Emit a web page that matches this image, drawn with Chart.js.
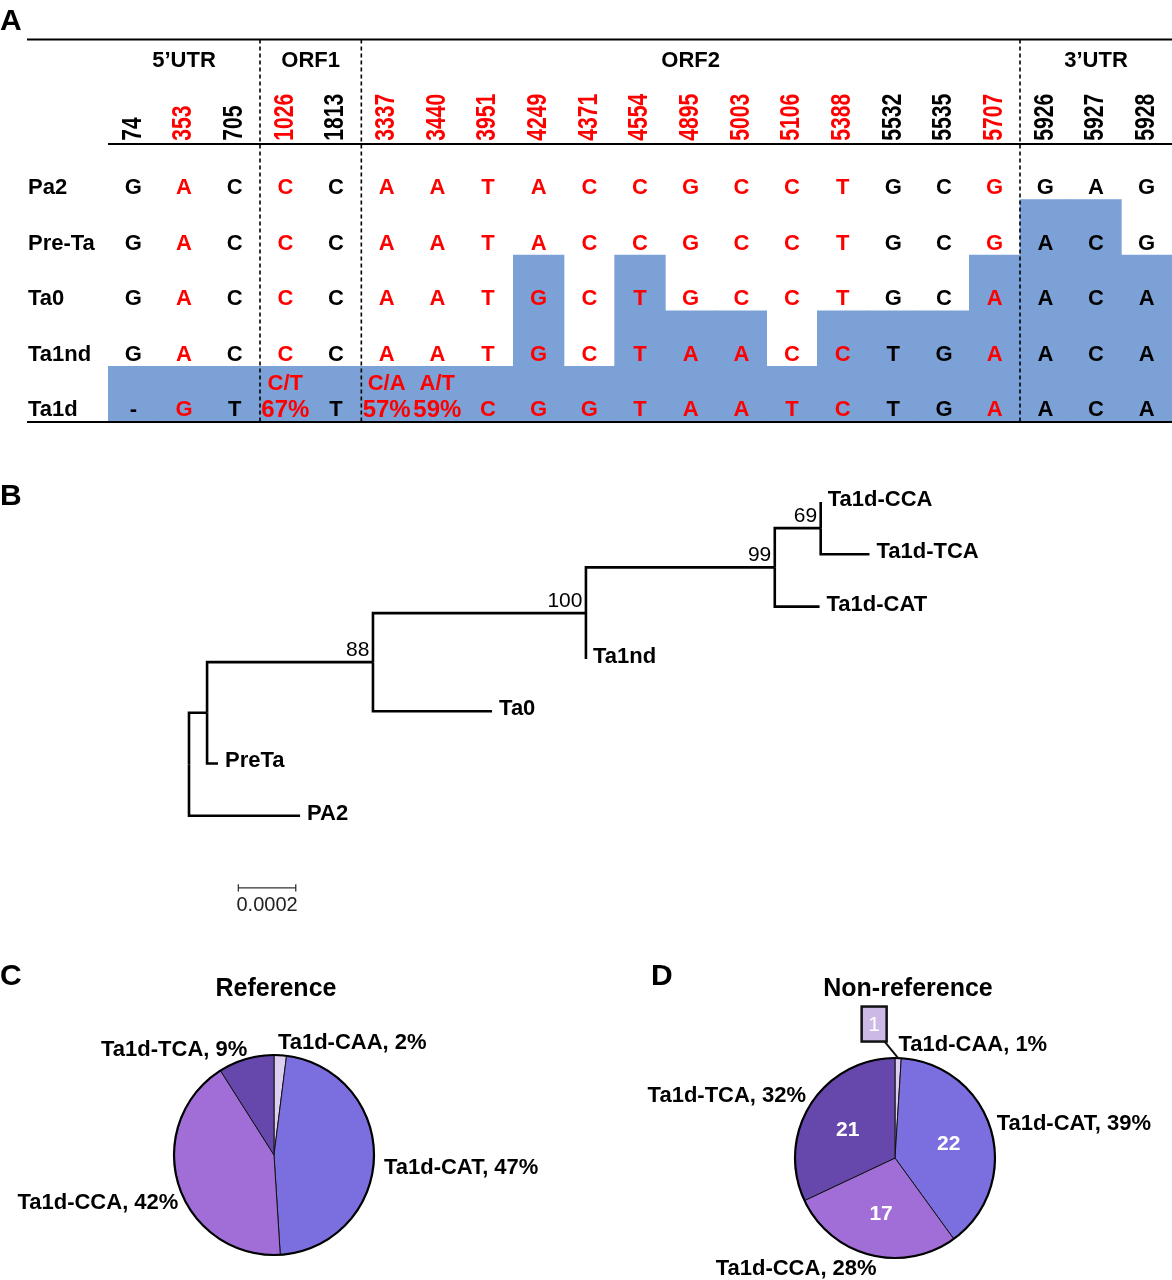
<!DOCTYPE html>
<html>
<head>
<meta charset="utf-8">
<title>Ta1 variants</title>
<script src="https://cdn.jsdelivr.net/npm/chart.js@4.4.1/dist/chart.umd.min.js"></script>
<style>
  body { margin: 0; background: #fff; }
  #page { position: relative; width: 1172px; height: 1280px; overflow: hidden; background: #fff; }
  canvas { position: absolute; }
</style>
</head>
<body>
<div id="page">
  <canvas id="alignChart" width="1172" height="432" style="left:0;top:0"></canvas>
  <canvas id="treeChart" width="1172" height="490" style="left:0;top:440px"></canvas>
  <canvas id="refPie" width="560" height="330" style="left:0;top:950px"></canvas>
  <canvas id="nonRefPie" width="572" height="330" style="left:600px;top:950px"></canvas>
</div>
<script>
// ---------- data: panel A (variant positions) ----------
const positions = ['74', '353', '705', '1026', '1813', '3337', '3440', '3951', '4249', '4371', '4554',
    '4895', '5003', '5106', '5388', '5532', '5535', '5707', '5926', '5927', '5928'];
const redPositions = ['353', '1026', '3337', '3440', '3951', '4249', '4371', '4554', '4895', '5003', '5106', '5388', '5707'];
const regions = ['5’UTR', 'ORF1', 'ORF2', '3’UTR'];
const regionStart = [0, 3, 5, 18]; // first column of each region
const rowNames = ['Pa2', 'Pre-Ta', 'Ta0', 'Ta1nd', 'Ta1d'];
const pa2Bases   = ['G','A','C','C','C','A','A','T','A','C','C','G','C','C','T','G','C','G','G','A','G'];
const preTaBases = ['G','A','C','C','C','A','A','T','A','C','C','G','C','C','T','G','C','G','A','C','G'];
const ta0Bases   = ['G','A','C','C','C','A','A','T','G','C','T','G','C','C','T','G','C','A','A','C','A'];
const ta1ndBases = ['G','A','C','C','C','A','A','T','G','C','T','A','A','C','C','T','G','A','A','C','A'];
const ta1dBases  = ['-','G','T','C/T 67%','T','C/A 57%','A/T 59%','C','G','G','T','A','A','T','C','T','G','A','A','C','A'];
// first row (0 = Pa2 ... 4 = Ta1d) from which a column is shaded
const shadeFrom = [4, 4, 4, 4, 4, 4, 4, 4, 2, 4, 2, 3, 3, 4, 3, 3, 3, 2, 1, 1, 2];

// ---------- data: panel B (tree) ----------
const treeNodes   = ['root', 'n1', 'n88', 'n100', 'n99', 'n69', 'PA2', 'PreTa', 'Ta0', 'Ta1nd', 'Ta1d-CAT', 'Ta1d-CCA', 'Ta1d-TCA'];
const treeParents = [null, 'root', 'n1', 'n88', 'n100', 'n99', 'root', 'n1', 'n88', 'n100', 'n99', 'n69', 'n69'];
const branchLen   = [0, 0.63, 5.78, 7.42, 6.58, 1.60, 3.87, 0.38, 4.15, 0, 1.56, 0, 1.70]; // x 1e-4 subst/site
const bootstrap   = [null, null, 88, 100, 99, 69, null, null, null, null, null, null, null];
const leafOrder   = ['Ta1d-CCA', 'Ta1d-TCA', 'Ta1d-CAT', 'Ta1nd', 'Ta0', 'PreTa', 'PA2'];
const scaleBarLen = 2; // = 0.0002
const scaleBarText = '0.0002';

// ---------- data: panels C, D (pies) ----------
const pieLabels = ['Ta1d-CAA', 'Ta1d-CAT', 'Ta1d-CCA', 'Ta1d-TCA'];
const refPercent = [2, 47, 42, 9];
const nonRefPercent = [1, 39, 28, 32];
const nonRefCounts = [1, 22, 17, 21];
const pieColors = ['#dccff0', '#7b6fdf', '#a06ed6', '#6648ad'];

const FONT = '"Liberation Sans", Arial, Helvetica, sans-serif';
Chart.defaults.font.family = FONT;

function line(ctx, x1, y1, x2, y2) {
    ctx.beginPath();
    ctx.moveTo(x1, y1);
    ctx.lineTo(x2, y2);
    ctx.stroke();
}

function colColor(i) {
    return redPositions.includes(positions[i]) ? '#ff0000' : '#000';
}

// ---------- panel A ----------
const allRows = [pa2Bases, preTaBases, ta0Bases, ta1ndBases, ta1dBases];

const alignmentText = {
    id: 'alignmentText',
    afterDatasetsDraw(chart) {
        const ctx = chart.ctx;
        const x = chart.scales.x, y = chart.scales.y;
        const W = chart.width;
        const colW = x.getPixelForValue(1) - x.getPixelForValue(0);
        const left = x.getPixelForValue(0) - colW / 2;
        const yTop = y.getPixelForValue(-1.88), yHead = y.getPixelForValue(0), yBot = y.getPixelForValue(5);
        ctx.save();
        ctx.fillStyle = '#000';
        ctx.font = 'bold 30px ' + FONT;
        ctx.textAlign = 'left';
        ctx.textBaseline = 'alphabetic';
        ctx.fillText('A', 0, 30);

        // rules
        ctx.strokeStyle = '#000';
        ctx.lineWidth = 2;
        line(ctx, 27, yTop, W, yTop);
        line(ctx, left, yHead, W, yHead);
        line(ctx, 27, yBot, W, yBot);
        ctx.setLineDash([4, 3]);
        ctx.lineWidth = 1.6;
        regionStart.slice(1).forEach(function(c) {
            const xx = x.getPixelForValue(c) - colW / 2;
            line(ctx, xx, yTop, xx, yBot);
        });
        ctx.setLineDash([]);

        // region names
        ctx.font = 'bold 22px ' + FONT;
        ctx.textAlign = 'center';
        ctx.textBaseline = 'middle';
        regions.forEach(function(r, i) {
            const a = regionStart[i];
            const b = (i + 1 < regionStart.length ? regionStart[i + 1] : positions.length) - 1;
            ctx.fillText(r, (x.getPixelForValue(a) + x.getPixelForValue(b)) / 2, y.getPixelForValue(-1.5));
        });

        // vertical position numbers
        positions.forEach(function(p, i) {
            ctx.save();
            ctx.translate(x.getPixelForValue(i), y.getPixelForValue(-0.06));
            ctx.rotate(-Math.PI / 2);
            ctx.scale(0.78, 1);
            ctx.fillStyle = colColor(i);
            ctx.font = 'bold 27px ' + FONT;
            ctx.textAlign = 'left';
            ctx.textBaseline = 'middle';
            ctx.fillText(p, 0, 0);
            ctx.restore();
        });

        // row names and bases
        ctx.textBaseline = 'alphabetic';
        rowNames.forEach(function(name, r) {
            ctx.fillStyle = '#000';
            ctx.font = 'bold 22px ' + FONT;
            ctx.textAlign = 'left';
            ctx.fillText(name, 28, y.getPixelForValue(r + 0.9));
            allRows[r].forEach(function(b, c) {
                const xx = x.getPixelForValue(c);
                ctx.textAlign = 'center';
                ctx.fillStyle = b === '-' ? '#000' : colColor(c);
                if (b.indexOf(' ') > 0) {
                    const parts = b.split(' ');
                    ctx.font = 'bold 22px ' + FONT;
                    ctx.fillText(parts[0], xx, y.getPixelForValue(r + 0.42));
                    ctx.font = 'bold 24px ' + FONT;
                    ctx.fillText(parts[1], xx, y.getPixelForValue(r + 0.91));
                } else {
                    ctx.font = 'bold 22px ' + FONT;
                    ctx.fillText(b, xx, y.getPixelForValue(r + 0.9));
                }
            });
        });
        ctx.restore();
    }
};

new Chart(document.getElementById('alignChart'), {
    type: 'bar',
    data: {
        labels: positions,
        datasets: [{
            data: shadeFrom.map(r => [r, rowNames.length]),
            backgroundColor: '#7ca1d6',
            borderWidth: 0,
            barPercentage: 1,
            categoryPercentage: 1
        }]
    },
    options: {
        responsive: false,
        animation: false,
        layout: { padding: { left: 108, right: 0, top: 144, bottom: 10 } },
        plugins: { legend: { display: false }, tooltip: { enabled: false } },
        scales: {
            x: { display: false },
            y: { display: false, reverse: true, min: 0, max: rowNames.length }
        }
    },
    plugins: [alignmentText]
});

// ---------- panel B ----------
const nodeX = {}, nodeY = {};
treeNodes.forEach(function(n, i) {
    const p = treeParents[i];
    nodeX[n] = (p ? nodeX[p] : 0) + branchLen[i];
});
function yOf(n) {
    if (nodeY[n] !== undefined) return nodeY[n];
    const li = leafOrder.indexOf(n);
    if (li >= 0) return (nodeY[n] = li);
    const kids = treeNodes.filter((m, i) => treeParents[i] === n).map(yOf);
    return (nodeY[n] = (Math.min.apply(null, kids) + Math.max.apply(null, kids)) / 2);
}
treeNodes.forEach(yOf);

const treeSets = [];
treeNodes.forEach(function(n, i) {
    const p = treeParents[i];
    if (!p) return;
    treeSets.push({
        data: [{ x: nodeX[p], y: nodeY[p] }, { x: nodeX[p], y: nodeY[n] }, { x: nodeX[n], y: nodeY[n] }],
        showLine: true, borderColor: '#000', borderWidth: 2.6, pointRadius: 0, fill: false
    });
});
const barY = 7.38, barX = 1.72, tick = 0.07;
treeSets.push({
    data: [{ x: barX, y: barY - tick }, { x: barX, y: barY + tick }, { x: barX, y: barY },
        { x: barX + scaleBarLen, y: barY }, { x: barX + scaleBarLen, y: barY - tick }, { x: barX + scaleBarLen, y: barY + tick }],
    showLine: true, borderColor: '#333', borderWidth: 1.3, pointRadius: 0, fill: false
});

const treeText = {
    id: 'treeText',
    afterDatasetsDraw(chart) {
        const ctx = chart.ctx;
        const x = chart.scales.x, y = chart.scales.y;
        ctx.save();
        ctx.fillStyle = '#000';
        ctx.textBaseline = 'alphabetic';
        ctx.textAlign = 'left';
        ctx.font = 'bold 30px ' + FONT;
        ctx.fillText('B', 0, 65);
        ctx.font = 'bold 22px ' + FONT;
        leafOrder.forEach(function(n) {
            ctx.fillText(n, x.getPixelForValue(nodeX[n]) + 7, y.getPixelForValue(nodeY[n]) + 4);
        });
        ctx.font = '21px ' + FONT;
        ctx.textAlign = 'right';
        treeNodes.forEach(function(n, i) {
            if (bootstrap[i] == null) return;
            ctx.fillText(String(bootstrap[i]), x.getPixelForValue(nodeX[n]) - 3.5, y.getPixelForValue(nodeY[n]) - 6.5);
        });
        ctx.textAlign = 'center';
        ctx.fillStyle = '#222';
        ctx.font = '20px ' + FONT;
        ctx.fillText(scaleBarText, x.getPixelForValue(barX + scaleBarLen / 2), y.getPixelForValue(7.83));
        ctx.restore();
    }
};

new Chart(document.getElementById('treeChart'), {
    type: 'scatter',
    data: { datasets: treeSets },
    options: {
        responsive: false,
        animation: false,
        layout: { padding: 0 },
        plugins: { legend: { display: false }, tooltip: { enabled: false } },
        scales: {
            x: { display: false, min: -6.585, max: 34.25 },
            y: { display: false, reverse: true, min: -1.185, max: 8.184 }
        }
    },
    plugins: [treeText]
});

// ---------- panels C, D ----------
const pieDecor = {
    id: 'pieDecor',
    afterDatasetsDraw(chart, args, opts) {
        const ctx = chart.ctx;
        const arcs = chart.getDatasetMeta(0).data;
        const cx = arcs[0].x, cy = arcs[0].y, R = arcs[0].outerRadius;
        ctx.save();
        // outline
        ctx.strokeStyle = '#000';
        ctx.lineWidth = 2.2;
        ctx.beginPath();
        ctx.arc(cx, cy, R, 0, Math.PI * 2);
        ctx.stroke();

        ctx.fillStyle = '#000';
        ctx.textAlign = 'left';
        ctx.textBaseline = 'alphabetic';
        ctx.font = 'bold 30px ' + FONT;
        ctx.fillText(opts.letter, opts.letterX, 35);
        ctx.textAlign = 'center';
        ctx.font = 'bold 25px ' + FONT;
        ctx.fillText(opts.title, cx + opts.titleDx, 46);

        ctx.font = 'bold 22px ' + FONT;
        ctx.textBaseline = 'middle';
        arcs.forEach(function(a, i) {
            const mid = (a.startAngle + a.endAngle) / 2;
            const px = cx + Math.cos(mid) * R * 1.1 + opts.shifts[i][0];
            const py = cy + Math.sin(mid) * R * 1.1 + opts.shifts[i][1];
            ctx.fillStyle = '#000';
            ctx.textAlign = Math.cos(mid) >= 0 ? 'left' : 'right';
            ctx.fillText(pieLabels[i] + ', ' + opts.values[i] + '%', px, py);
        });

        if (opts.counts) {
            arcs.forEach(function(a, i) {
                const mid = (a.startAngle + a.endAngle) / 2;
                if (i === opts.calloutIndex) {
                    const ax = cx + Math.cos(mid) * R, ay = cy + Math.sin(mid) * R;
                    const bx = ax - 24, by = ay - 34, bw = 25, bh = 35;
                    ctx.strokeStyle = '#111';
                    ctx.lineWidth = 2;
                    line(ctx, ax, ay, bx + bw / 2 - 2, by + bh / 2);
                    ctx.fillStyle = '#cdb9e6';
                    ctx.fillRect(bx - bw / 2, by - bh / 2, bw, bh);
                    ctx.lineWidth = 2.5;
                    ctx.strokeRect(bx - bw / 2, by - bh / 2, bw, bh);
                    ctx.fillStyle = '#fff';
                    ctx.textAlign = 'center';
                    ctx.font = '21px ' + FONT;
                    ctx.fillText(String(opts.counts[i]), bx, by + 1);
                } else {
                    ctx.fillStyle = '#fff';
                    ctx.textAlign = 'center';
                    ctx.font = 'bold 21px ' + FONT;
                    ctx.fillText(String(opts.counts[i]), cx + Math.cos(mid) * R * 0.56, cy + Math.sin(mid) * R * 0.56 + 2);
                }
            });
        }
        ctx.restore();
    }
};

function makePie(id, values, padding, decor) {
    return new Chart(document.getElementById(id), {
        type: 'pie',
        data: {
            labels: pieLabels,
            datasets: [{
                data: values,
                backgroundColor: pieColors,
                borderColor: '#111',
                borderWidth: 1,
                radius: 100
            }]
        },
        options: {
            responsive: false,
            animation: false,
            layout: { padding: padding },
            plugins: { legend: { display: false }, tooltip: { enabled: false }, pieDecor: decor }
        },
        plugins: [pieDecor]
    });
}

makePie('refPie', refPercent, { left: 0, right: 12, top: 80, bottom: 0 }, {
    letter: 'C', letterX: 0, title: 'Reference', titleDx: 2, values: refPercent,
    shifts: [[-3, -2], [0, 9], [9, 14], [4, 1]]
});
makePie('nonRefPie', nonRefPercent, { left: 18, right: 0, top: 86, bottom: 0 }, {
    letter: 'D', letterX: 51, title: 'Non-reference', titleDx: 13, values: nonRefPercent,
    counts: nonRefCounts, calloutIndex: 0,
    shifts: [[0, -3], [-4, -3], [9, 4], [4, -3]]
});
</script>
</body>
</html>
